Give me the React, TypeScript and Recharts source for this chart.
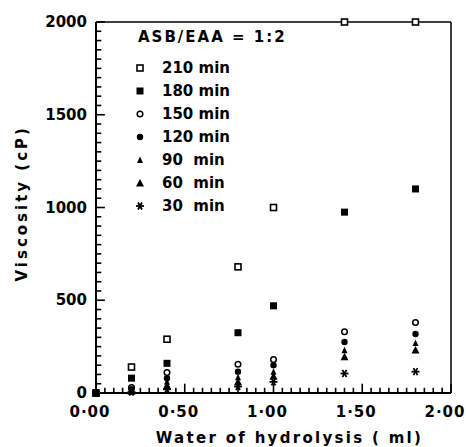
import React from "react";
import {
  ScatterChart,
  Scatter,
  XAxis,
  YAxis,
  Legend,
  ReferenceLine,
} from "recharts";

// water of hydrolysis (ml)
const water = [0, 0.2, 0.4, 0.8, 1.0, 1.4, 1.8];

// viscosity (cP) per reaction time
const min210 = [0, 140, 290, 680, 1000, 2000, 2000];
const min180 = [0, 80, 160, 325, 470, 975, 1100];
const min150 = [0, 30, 110, 155, 180, 330, 380];
const min120 = [0, 20, 80, 115, 150, 275, 318];
const min90 = [0, 15, 60, 85, 115, 230, 270];
const min60 = [0, 10, 40, 60, 90, 195, 232];
const min30 = [0, 5, 20, 35, 60, 105, 115];

const xMajor = [0, 0.5, 1, 1.5, 2];
const xTickLabels = ["0·00", "0·50", "1·00", "1·50", "2·00"];
const yMajor = [0, 500, 1000, 1500, 2000];
const yTickLabels = ["0", "500", "1000", "1500", "2000"];

// minor ticks every 0.05 ml / 50 cP
const xTicks: number[] = [];
for (let i = 0; i <= 40; i++) xTicks.push(Math.round(i * 5) / 100);
const yTicks: number[] = [];
for (let i = 0; i <= 40; i++) yTicks.push(i * 50);

const FONT = "'DejaVu Sans', sans-serif";

// layout
const W = 466;
const H = 447;
const MARGIN = { top: 22, right: 15, bottom: 0, left: 0 };
const Y_AXIS_W = 96;
const X_AXIS_H = 54;
const PLOT_BOTTOM = H - MARGIN.bottom - X_AXIS_H;

// inward tick lengths, in data units (about 5 px minor / 9 px major)
const X_TICK_LEN = { minor: 28, major: 50 }; // cP
const Y_TICK_LEN = { minor: 0.03, major: 0.05 }; // ml

type Kind = "openSquare" | "square" | "openCircle" | "circle" | "smallTriangle" | "triangle" | "star";

const series: { name: string; kind: Kind; values: number[] }[] = [
  { name: "210 min", kind: "openSquare", values: min210 },
  { name: "180 min", kind: "square", values: min180 },
  { name: "150 min", kind: "openCircle", values: min150 },
  { name: "120 min", kind: "circle", values: min120 },
  { name: "90  min", kind: "smallTriangle", values: min90 },
  { name: "60  min", kind: "triangle", values: min60 },
  { name: "30  min", kind: "star", values: min30 },
];

const Marker = ({ kind, cx, cy }: { kind: Kind; cx: number; cy: number }) => {
  switch (kind) {
    case "openSquare":
      return <rect x={cx - 3} y={cy - 3} width={6} height={6} fill="#fff" stroke="#000" strokeWidth={1.6} />;
    case "square":
      return <rect x={cx - 3.5} y={cy - 3.5} width={7} height={7} fill="#000" />;
    case "openCircle":
      return <circle cx={cx} cy={cy} r={2.8} fill="#fff" stroke="#000" strokeWidth={1.5} />;
    case "circle":
      return <circle cx={cx} cy={cy} r={3.2} fill="#000" />;
    case "smallTriangle":
      return <polygon points={`${cx},${cy - 3.5} ${cx + 3},${cy + 3} ${cx - 3},${cy + 3}`} fill="#000" />;
    case "triangle":
      return <polygon points={`${cx},${cy - 4} ${cx + 4},${cy + 3.5} ${cx - 4},${cy + 3.5}`} fill="#000" />;
    case "star":
      return (
        <g stroke="#000" strokeWidth={1.8}>
          <line x1={cx - 4} y1={cy} x2={cx + 4} y2={cy} />
          <line x1={cx - 2} y1={cy - 3.5} x2={cx + 2} y2={cy + 3.5} />
          <line x1={cx + 2} y1={cy - 3.5} x2={cx - 2} y2={cy + 3.5} />
        </g>
      );
  }
  return null;
};

const isMajorX = (v: number) => xMajor.some((m) => Math.abs(m - v) < 1e-6);

const XTick = (props: any) => {
  const x = Number(props.x);
  const idx = xMajor.findIndex((m) => Math.abs(m - props.payload.value) < 1e-6);
  if (idx < 0) return <g />;
  return (
    <text x={x - 6} y={PLOT_BOTTOM + 24} textAnchor="middle" fontFamily={FONT} fontWeight="bold" fontSize={15} letterSpacing={1} fill="#000" stroke="none">
      {xTickLabels[idx]}
    </text>
  );
};

const YTick = (props: any) => {
  const y = Number(props.y);
  const idx = yMajor.indexOf(props.payload.value);
  if (idx < 0) return <g />;
  return (
    <text x={Y_AXIS_W - 9} y={y + 5} textAnchor="end" fontFamily={FONT} fontWeight="bold" fontSize={15} fill="#000" stroke="none">
      {yTickLabels[idx]}
    </text>
  );
};

const renderLegend = () => (
  <div style={{ fontFamily: FONT, fontWeight: "bold", fontSize: 15, color: "#000" }}>
    <div style={{ letterSpacing: 2, height: 32, lineHeight: "26px", marginLeft: 8 }}>ASB/EAA = 1:2</div>
    {series.map((s) => (
      <div key={s.name} style={{ display: "flex", alignItems: "center", height: 23 }}>
        <svg width={20} height={14} style={{ flex: "none" }}>
          <Marker kind={s.kind} cx={10} cy={7} />
        </svg>
        <span style={{ marginLeft: 12, whiteSpace: "pre" }}>{s.name}</span>
      </div>
    ))}
  </div>
);

export default function App() {
  return (
    <div style={{ position: "absolute", left: 0, top: 0, background: "#fff" }}>
      <ScatterChart width={W} height={H} margin={MARGIN}>
        <XAxis
          type="number"
          dataKey="x"
          domain={[0, 2]}
          ticks={xTicks}
          interval={0}
          tick={<XTick />}
          tickLine={false}
          height={X_AXIS_H}
          axisLine={{ stroke: "#000", strokeWidth: 2 }}
          label={{
            value: "Water of hydrolysis ( ml)",
            position: "insideBottom",
            offset: 4,
            fontFamily: FONT,
            fontWeight: "bold",
            fontSize: 15,
            letterSpacing: 2.3,
            fill: "#000",
            dx: 16,
          }}
        />
        <YAxis
          type="number"
          dataKey="y"
          domain={[0, 2000]}
          ticks={yTicks}
          interval={0}
          tick={<YTick />}
          tickLine={false}
          width={Y_AXIS_W}
          axisLine={{ stroke: "#000", strokeWidth: 2 }}
          label={{
            value: "Viscosity (cP)",
            angle: -90,
            position: "insideLeft",
            offset: 22,
            dy: 74,
            fontFamily: FONT,
            fontWeight: "bold",
            fontSize: 15,
            letterSpacing: 3,
            fill: "#000",
          }}
        />
        <ReferenceLine y={2000} stroke="#000" strokeWidth={1.5} />
        <ReferenceLine x={2} stroke="#000" strokeWidth={1.5} />
        {xTicks.map((v) => (
          <ReferenceLine
            key={`xt${v}`}
            segment={[
              { x: v, y: 0 },
              { x: v, y: isMajorX(v) ? X_TICK_LEN.major : X_TICK_LEN.minor },
            ]}
            stroke="#000"
            strokeWidth={1.6}
          />
        ))}
        {yTicks.map((v) => (
          <ReferenceLine
            key={`yt${v}`}
            segment={[
              { x: 0, y: v },
              { x: yMajor.includes(v) ? Y_TICK_LEN.major : Y_TICK_LEN.minor, y: v },
            ]}
            stroke="#000"
            strokeWidth={1.6}
          />
        ))}
        <Legend
          layout="vertical"
          align="center"
          verticalAlign="middle"
          content={renderLegend}
          wrapperStyle={{ left: 130, top: 24, width: 200 }}
        />
        {series.map((s) => (
          <Scatter
            key={s.name}
            name={s.name}
            data={water.map((x, i) => ({ x, y: s.values[i] }))}
            isAnimationActive={false}
            shape={(p: any) => <Marker kind={s.kind} cx={p.cx} cy={p.cy} />}
          />
        ))}
      </ScatterChart>
    </div>
  );
}
